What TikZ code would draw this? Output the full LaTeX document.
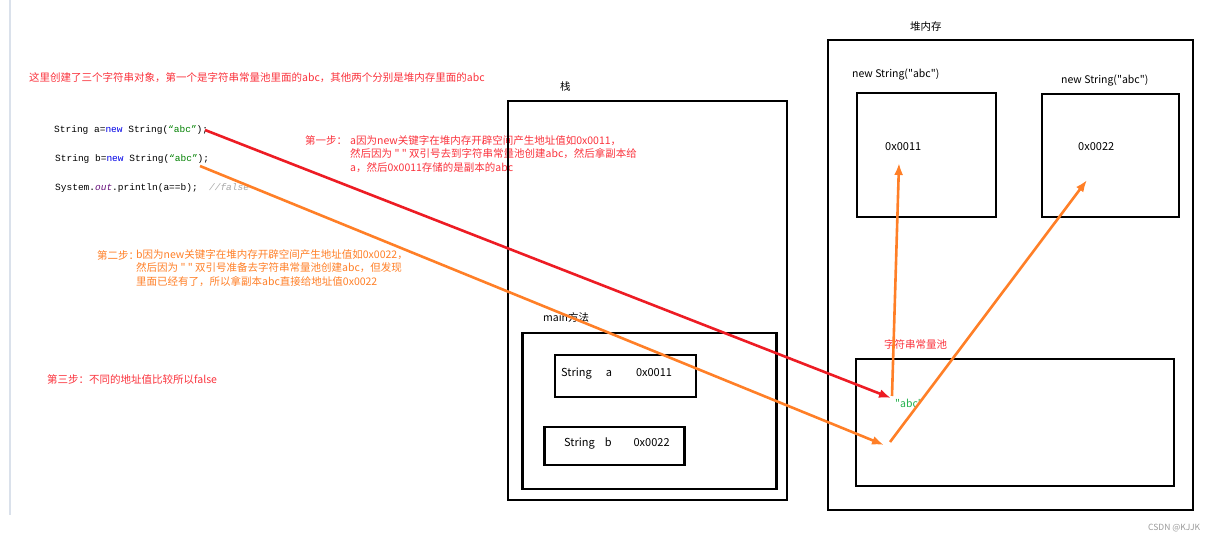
\documentclass[tikz,border=0pt]{standalone}
\usepackage{fontspec}
\setmainfont{Noto Sans CJK SC}[Ligatures=TeXOff]
\newfontfamily\codefont{Liberation Mono}
\usetikzlibrary{arrows.meta}
\definecolor{linered}{RGB}{237,28,36}
\definecolor{textred}{RGB}{250,50,60}
\definecolor{lineorange}{RGB}{255,127,39}
\definecolor{poolgreen}{RGB}{34,177,76}
\definecolor{kwblue}{RGB}{0,0,230}
\definecolor{strgreen}{RGB}{0,128,0}
\definecolor{fieldpurple}{RGB}{102,14,122}
\definecolor{sidebar}{RGB}{218,225,235}

\begin{document}
\begin{tikzpicture}
		[x=1pt,y=-1pt,
		box/.style ={draw=black, line width=2.6pt, inner sep=0pt},
		txt/.style ={anchor=west, inner sep=0pt, align=left, font=\fontsize{10.5}{13.8}\selectfont},
		redtxt/.style ={txt, text=textred},
		orangetxt/.style ={txt, text=lineorange},
		code/.style ={anchor=west, inner sep=0pt, font=\codefont\fontsize{9.5}{11}\selectfont},
		cell/.style ={txt, font=\fontsize{11}{13}\selectfont},
		redline/.style ={draw=linered, line width=2.6pt, -{Latex[length=12pt,width=9pt]}},
		orangeline/.style ={draw=lineorange, line width=2.6pt, -{Latex[length=12pt,width=9pt]}},
		]
		\useasboundingbox (0,0) rectangle (1214,543);
		\draw[sidebar, line width=2pt] (10,0) -- (10,515);

		% left side: code and notes
		\draw (29,78) node[redtxt] (intro) {这里创建了三个字符串对象，第一个是字符串常量池里面的abc，其他两个分别是堆内存里面的abc};
		\draw (54,130) node[code] (codeA) {String a=\textcolor{kwblue}{new} String(\textcolor{strgreen}{“abc”});};
		\draw (55,159) node[code] (codeB) {String b=\textcolor{kwblue}{new} String(\textcolor{strgreen}{“abc”});};
		\draw (55,188) node[code] (codeC) {System.\textcolor{fieldpurple}{\itshape out}.println(a==b);\ \ \textcolor{gray!70}{\itshape //false}};
		\draw (305,140) node[redtxt] (step1) {第一步：};
		\draw (350,154) node[redtxt] (step1txt) {a因为new关键字在堆内存开辟空间产生地址值如0x0011，\\然后因为 " " 双引号去到字符串常量池创建abc，然后拿副本给\\a，然后0x0011存储的是副本的abc};
		\draw (97,255) node[orangetxt] (step2) {第二步：};
		\draw (136,268) node[orangetxt] (step2txt) {b因为new关键字在堆内存开辟空间产生地址值如0x0022，\\然后因为 " " 双引号准备去字符串常量池创建abc，但发现\\里面已经有了，所以拿副本abc直接给地址值0x0022};
		\draw (47,380) node[redtxt] (step3) {第三步：不同的地址值比较所以false};

		% stack
		\draw (560,87) node[txt] (stacklbl) {栈};
		\draw (647.5,300.5) node[box, minimum width=279pt, minimum height=399pt] (stack) {};
		\draw (543,317) node[txt] (mainlbl) {main方法};
		\draw (649.5,411) node[box, minimum width=254pt, minimum height=156pt] (mainm) {};
		\draw (625.5,376) node[box, minimum width=141pt, minimum height=42pt] (varA) {};
		\draw (614.5,446) node[box, minimum width=140pt, minimum height=38pt] (varB) {};
		\draw (561,374) node[cell] (varAtxt) {String\hspace{14pt}a\hspace{24pt}0x0011};
		\draw (564,443) node[cell] (varBtxt) {String\hspace{10pt}b\hspace{22pt}0x0022};

		% heap
		\draw (910,27) node[txt] (heaplbl) {堆内存};
		\draw (1010.5,275) node[box, minimum width=365pt, minimum height=470pt] (heap) {};
		\draw (852,75) node[txt] (newA) {new String("abc")};
		\draw (926.5,155) node[box, minimum width=139pt, minimum height=124pt] (objA) {};
		\draw (885,147) node[cell] (objAtxt) {0x0011};
		\draw (1061,81) node[txt] (newB) {new String("abc")};
		\draw (1110.5,155.5) node[box, minimum width=137pt, minimum height=123pt] (objB) {};
		\draw (1078,147) node[cell] (objBtxt) {0x0022};
		\draw (884,344) node[redtxt] (poollbl) {字符串常量池};
		\draw (1015,422.5) node[box, minimum width=318pt, minimum height=127pt] (pool) {};
		\draw (895,403) node[txt, text=poolgreen] (poolabc) {"abc"};

		\draw (1148,528) node[txt, text=gray!80, font=\fontsize{8.5}{9}\selectfont] (mark) {CSDN @KJJK};

		\coordinate (srcA) at (205,130);
		\coordinate (srcB) at (200,166);
		\coordinate (hitA) at (891,398);
		\coordinate (hitB) at (884,445);
		\coordinate (upA) at (892,396);
		\coordinate (upB) at (890,442);
		\coordinate (tipA) at (899,163);
		\coordinate (tipB) at (1087,180);

		\path
		(srcA) edge[redline] (hitA)
		(srcB) edge[orangeline] (hitB)
		(upA) edge[orangeline] (tipA)
		(upB) edge[orangeline] (tipB);
	\end{tikzpicture}
\end{document}
